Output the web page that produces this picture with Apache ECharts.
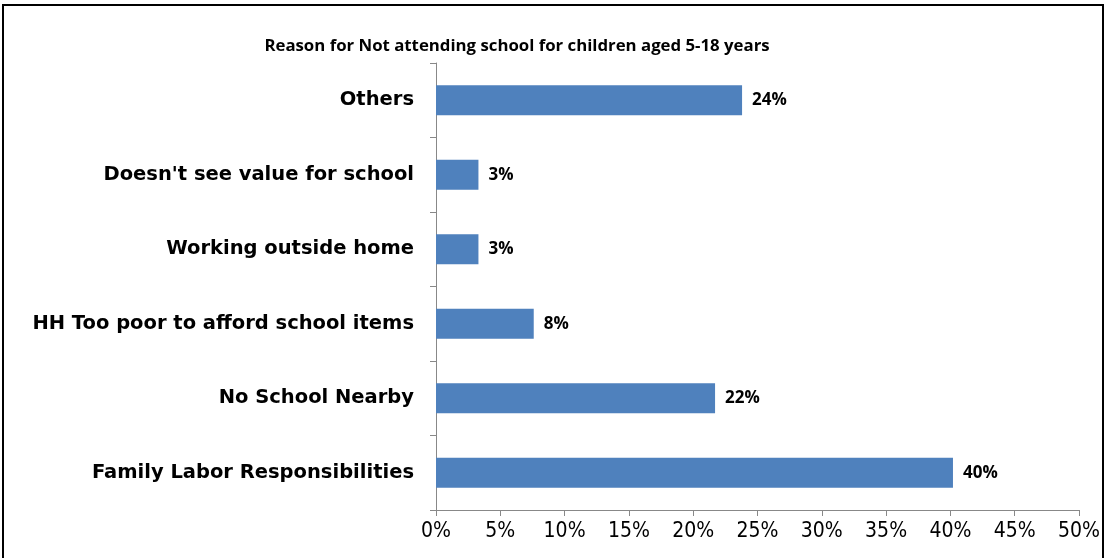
<!DOCTYPE html>
<html>
<head>
<meta charset="utf-8">
<script src="https://cdn.jsdelivr.net/npm/echarts@6/dist/echarts.min.js"></script>
<style>
  html, body { margin: 0; padding: 0; background: #fff; }
  #chart { width: 1111px; height: 558px; }
</style>
</head>
<body>
<div id="chart"></div>
<script>
// categories bottom to top, as the y axis draws them
const categories = [
  "Family Labor Responsibilities",
  "No School Nearby",
  "HH Too poor to afford school items",
  "Working outside home",
  "Doesn't see value for school",
  "Others"
];
// share of children, percent
const shares = [40.2, 21.7, 7.6, 3.3, 3.3, 23.8];
const xTicks = { min: 0, max: 50, interval: 5 };

const chart = echarts.init(document.getElementById("chart"));
chart.setOption({
  backgroundColor: "#fff",
  animation: false,
  title: {
    text: "Reason for Not attending school for children aged 5-18 years",
    left: 512,
    textAlign: "center",
    top: 33,
    textStyle: {
      fontFamily: "Open Sans",
      fontWeight: "bold",
      fontSize: 16.8,
      color: "#000"
    }
  },
  graphic: [{
    type: "rect",
    shape: { x: 3, y: 5, width: 1100, height: 600 },
    style: { fill: "none", stroke: "#000", lineWidth: 2 },
    silent: true
  }],
  grid: { left: 436, right: 32, top: 63, bottom: 48 },
  xAxis: {
    type: "value",
    min: xTicks.min,
    max: xTicks.max,
    interval: xTicks.interval,
    splitLine: { show: false },
    axisLine: { show: true, lineStyle: { color: "#888", width: 1 } },
    axisTick: { show: true, length: 6, lineStyle: { color: "#888" } },
    axisLabel: {
      formatter: v => v + "%",
      color: "#000",
      fontSize: 21,
      fontFamily: "DejaVu Sans Condensed",
      margin: 11
    }
  },
  yAxis: {
    type: "category",
    data: categories,
    axisLine: { show: true, lineStyle: { color: "#888", width: 1 } },
    axisTick: { show: true, length: 6, lineStyle: { color: "#888" } },
    axisLabel: {
      color: "#000",
      fontSize: 19.5,
      fontWeight: "bold",
      fontFamily: "DejaVu Sans",
      margin: 22
    }
  },
  series: [{
    type: "bar",
    data: shares,
    barCategoryGap: "60%",
    itemStyle: { color: "#4F81BD" },
    label: {
      show: true,
      position: "right",
      distance: 10,
      formatter: p => Math.round(p.value) + "%",
      color: "#000",
      fontSize: 17,
      fontWeight: "bold",
      fontFamily: "Open Sans"
    }
  }]
});
</script>
</body>
</html>
